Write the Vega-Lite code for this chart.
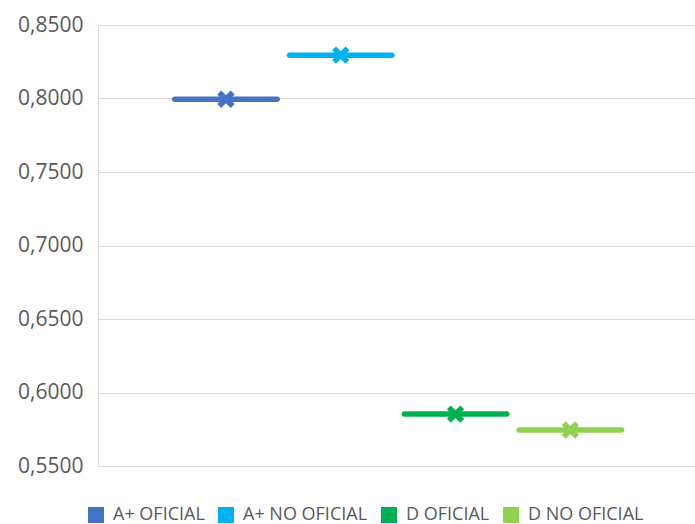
{
  "$schema": "https://vega.github.io/schema/vega-lite/v6.json",
  "width": 597,
  "height": 441,
  "autosize": {"type": "none"},
  "padding": {"left": 98, "top": 25, "right": 0, "bottom": 58},
  "background": "white",
  "config": {"view": {"stroke": null}},
  "data": {
    "values": [
      {"serie": "A+ OFICIAL", "valor": 0.7995},
      {"serie": "A+ NO OFICIAL", "valor": 0.8295},
      {"serie": "D OFICIAL", "valor": 0.5853},
      {"serie": "D NO OFICIAL", "valor": 0.5745}
    ]
  },
  "encoding": {
    "x": {
      "field": "serie",
      "type": "nominal",
      "sort": null,
      "scale": {"paddingInner": 0, "paddingOuter": 0.6, "align": 0.512},
      "axis": null
    },
    "y": {
      "field": "valor",
      "type": "quantitative",
      "scale": {"domain": [0.55, 0.85], "zero": false, "nice": false},
      "axis": {
        "values": [0.55, 0.6, 0.65, 0.7, 0.75, 0.8, 0.85],
        "labelExpr": "replace(format(datum.value, '.4f'), '.', ',')",
        "title": null,
        "grid": true,
        "gridColor": "#D9D9D9",
        "gridWidth": 1,
        "domain": true,
        "domainColor": "#D9D9D9",
        "ticks": false,
        "labelFont": "Open Sans",
        "labelFontSize": 21,
        "labelColor": "#595959",
        "labelPadding": 15
      }
    },
    "color": {
      "field": "serie",
      "type": "nominal",
      "sort": null,
      "scale": {
        "domain": ["A+ OFICIAL", "A+ NO OFICIAL", "D OFICIAL", "D NO OFICIAL"],
        "range": ["#4472C4", "#00B0F0", "#00B050", "#92D050"]
      },
      "legend": {
        "title": null,
        "orient": "none",
        "legendX": -11,
        "legendY": 481,
        "direction": "horizontal",
        "columns": 4,
        "symbolType": "square",
        "symbolSize": 256,
        "symbolStrokeWidth": 0,
        "labelFont": "Open Sans",
        "labelFontSize": 18,
        "labelColor": "#595959",
        "columnPadding": 12,
        "labelOffset": 8
      }
    }
  },
  "layer": [
    {"mark": {"type": "tick", "thickness": 5.5, "size": 108, "cornerRadius": 2.75, "opacity": 1}},
    {"mark": {"type": "point", "shape": "M-1,-0.55 L-0.55,-1 L0,-0.45 L0.55,-1 L1,-0.55 L0.45,0 L1,0.55 L0.55,1 L0,0.45 L-0.55,1 L-1,0.55 L-0.45,0 Z", "filled": true, "size": 300, "opacity": 1}}
  ]
}
